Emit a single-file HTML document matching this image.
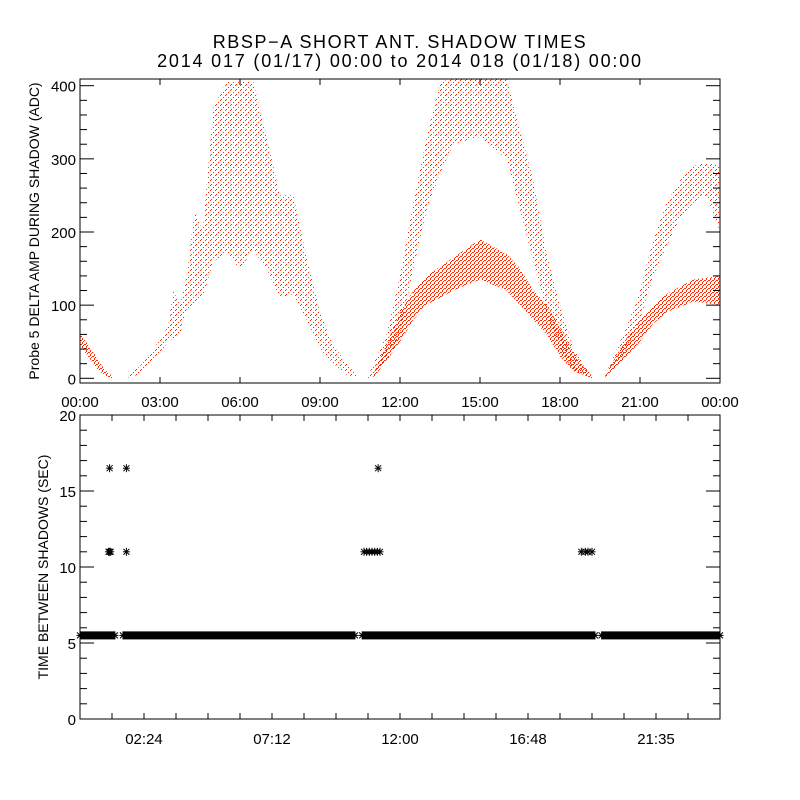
<!DOCTYPE html>
<html><head><meta charset="utf-8"><style>
body{margin:0;background:#fff}
svg{display:block;font-family:"Liberation Sans",sans-serif}
</style></head><body>
<svg id="c" width="800" height="800" viewBox="0 0 800 800">
<defs>
<pattern id="dense" width="4" height="4" patternUnits="userSpaceOnUse">
<rect x="0" y="0" width="2" height="1" fill="#ff2a00"/><rect x="2" y="2" width="1" height="2" fill="#ff2a00"/><rect x="3" y="1" width="1" height="1" fill="#ff2a00"/>
</pattern>
<pattern id="sparse" width="5" height="5" patternUnits="userSpaceOnUse">
<rect x="0" y="0" width="1" height="1" fill="#ff2a00"/><rect x="3" y="2" width="1" height="1" fill="#ff2a00"/><rect x="1" y="4" width="1" height="1" fill="#ff2a00"/>
</pattern>
</defs>
<text x="400" y="48" text-anchor="middle" font-size="18" letter-spacing="1.6">RBSP−A SHORT ANT. SHADOW TIMES</text>
<text x="400" y="67" text-anchor="middle" font-size="18" letter-spacing="1.8">2014 017 (01/17) 00:00 to 2014 018 (01/18) 00:00</text>
<g id="topPanel"></g>
<g id="botPanel"></g>
</svg>
<script>
// ---- top panel data: bands [hour, low, high] ----
const band1 = [[0,45,62],[0.3,30,46],[0.6,15,30],[0.9,4,13],[1.2,0,3]];
const band2 = [[1.7,0,3],[2.2,5,15],[2.7,20,35],[3.0,35,55],[3.3,50,70],[3.5,55,120],[3.75,60,100],[4.0,95,140],[4.3,100,230],[4.6,110,200],[5.0,160,370],[5.5,170,405],[6.0,150,405],[6.5,175,405],[7.0,150,330],[7.5,110,250],[8.0,115,250],[8.5,80,165],[9.0,40,90],[9.5,20,45],[10.0,5,20],[10.4,0,3]];
const band3Upper = [[10.8,0,3],[11.5,20,60],[12.0,60,140],[12.5,150,240],[13.0,230,330],[13.5,280,405],[14.0,320,410],[15.0,330,410],[16.0,300,410],[16.5,230,340],[17.0,160,270],[17.5,90,170],[18.0,40,100],[18.5,10,40],[19.2,0,3]];
const band3Lower = [[11.0,0,5],[12.0,50,90],[12.5,80,120],[13.0,100,140],[14.0,120,165],[15.0,135,190],[16.0,120,170],[16.5,100,150],[17.0,80,120],[17.5,60,100],[18.0,30,70],[18.5,10,35],[19.2,0,3]];
const band4Upper = [[19.7,0,5],[20.5,40,70],[21.0,80,120],[21.5,140,190],[22.0,180,240],[22.5,220,270],[23.0,240,290],[23.5,250,295],[24.0,200,290]];
const band4Lower = [[19.7,0,5],[20.5,30,55],[21.0,50,80],[21.5,75,100],[22.0,90,115],[23.0,105,135],[24.0,100,140]];
const topXTicks = ["00:00","03:00","06:00","09:00","12:00","15:00","18:00","21:00","00:00"];
const topYTicks = [0,100,200,300,400];
// ---- bottom panel data ----
const runs = [[0,1.31],[1.61,10.31],[10.58,19.31],[19.56,24]];
const runValue = 5.5;
const outlierHours = [1.11,1.74,1.07,1.11,1.15,1.74,10.65,10.75,10.85,10.95,11.05,11.15,11.25,11.18,18.8,18.95,19.05,19.2];
const outlierValues = [16.5,16.5,11,11,11,11,11,11,11,11,11,11,11,16.5,11,11,11,11];
const botXTicks = ["02:24","07:12","12:00","16:48","21:35"];
const botYTicks = [0,5,10,15,20];

const NS="http://www.w3.org/2000/svg";
function mk(p,t,a){const e=document.createElementNS(NS,t);for(const k in a)e.setAttribute(k,a[k]);p.appendChild(e);return e;}
const L=80,R=720;
const hx=h=>L+h*(R-L)/24;
const tT=79,tB=383,ty=v=>378.3-v*0.7315;
const topG=document.getElementById('topPanel');
const cp=mk(document.querySelector('defs'),'clipPath',{id:'tclip'});mk(cp,'rect',{x:L,y:tT,width:R-L,height:tB-tT});
function drawBand(b,fill,name){
  let d="M"+b.map(p=>hx(p[0])+","+ty(p[2])).join(" L");
  d+=" L"+b.slice().reverse().map(p=>hx(p[0])+","+ty(p[1])).join(" L")+" Z";
  const e=mk(topG,'path',{d:d,fill:fill,'clip-path':'url(#tclip)'});
  
  
}
drawBand(band1,'url(#dense)','scatter-segment-1');
drawBand(band2,'url(#sparse)','scatter-segment-2');
drawBand(band3Upper,'url(#sparse)','scatter-segment-3-upper');
drawBand(band3Lower,'url(#dense)','scatter-segment-3-lower');
drawBand(band4Upper,'url(#sparse)','scatter-segment-4-upper');
drawBand(band4Lower,'url(#dense)','scatter-segment-4-lower');
let fr=mk(topG,'rect',{x:L,y:tT,width:R-L,height:tB-tT,fill:'none',stroke:'#000','stroke-width':1});

for(let v=0;v<=400;v+=20){const y=ty(v),len=v%100===0?14:7;
  mk(topG,'line',{x1:L,x2:L+len,y1:y,y2:y,stroke:'#000'});mk(topG,'line',{x1:R,x2:R-len,y1:y,y2:y,stroke:'#000'});}
topYTicks.forEach(v=>{const t=mk(topG,'text',{x:L-4,y:ty(v)+6,'text-anchor':'end','font-size':15});t.textContent=v;
  });
topXTicks.forEach((s,i)=>{const x=hx(i*3);
  mk(topG,'line',{x1:x,x2:x,y1:tB,y2:tB-6,stroke:'#000'});mk(topG,'line',{x1:x,x2:x,y1:tT,y2:tT+6,stroke:'#000'});
  const t=mk(topG,'text',{x:x,y:407,'text-anchor':'middle','font-size':15});t.textContent=s;
  });
let yt=mk(topG,'text',{transform:'translate(39,231) rotate(-90)','text-anchor':'middle','font-size':14});yt.textContent='Probe 5 DELTA AMP DURING SHADOW (ADC)';

// bottom
const bT=415,bB=719,by=v=>bB-v*(bB-bT)/20;
const botG=document.getElementById('botPanel');
function star(x,y,name){const g=mk(botG,'g',{stroke:'#000','stroke-width':1});
  
  
  mk(g,'line',{x1:x-3.5,x2:x+3.5,y1:y,y2:y});mk(g,'line',{x1:x,x2:x,y1:y-4,y2:y+4});
  mk(g,'line',{x1:x-3,x2:x+3,y1:y-3,y2:y+3});mk(g,'line',{x1:x-3,x2:x+3,y1:y+3,y2:y-3});}
runs.forEach(r=>{const x0=hx(r[0]),x1=Math.min(hx(r[1]),R);
  const rc=mk(botG,'rect',{x:x0,y:by(runValue)-4,width:x1-x0,height:8,fill:'#000'});
  
  star(x0,by(runValue),'interval-marker');star(x1,by(runValue),'interval-marker');});
outlierHours.forEach((h,i)=>star(hx(h),by(outlierValues[i]),'interval-outlier'));
fr=mk(botG,'rect',{x:L,y:bT,width:R-L,height:bB-bT,fill:'none',stroke:'#000'});

for(let v=0;v<=20;v++){const y=by(v),len=v%5===0?14:7;
  mk(botG,'line',{x1:L,x2:L+len,y1:y,y2:y,stroke:'#000'});mk(botG,'line',{x1:R,x2:R-len,y1:y,y2:y,stroke:'#000'});}
botYTicks.forEach(v=>{const t=mk(botG,'text',{x:L-4,y:by(v)+6,'text-anchor':'end','font-size':15});t.textContent=v;
  });
for(let i=1;i<20;i++){const x=hx(i*1.2);mk(botG,'line',{x1:x,x2:x,y1:bB,y2:bB-6,stroke:'#000'});mk(botG,'line',{x1:x,x2:x,y1:bT,y2:bT+6,stroke:'#000'});}
botXTicks.forEach((s,i)=>{const t=mk(botG,'text',{x:hx((i*2+1)*2.4),y:744,'text-anchor':'middle','font-size':15});t.textContent=s;
  });
yt=mk(botG,'text',{transform:'translate(48,567) rotate(-90)','text-anchor':'middle','font-size':14});yt.textContent='TIME BETWEEN SHADOWS (SEC)';

</script>
</body></html>
